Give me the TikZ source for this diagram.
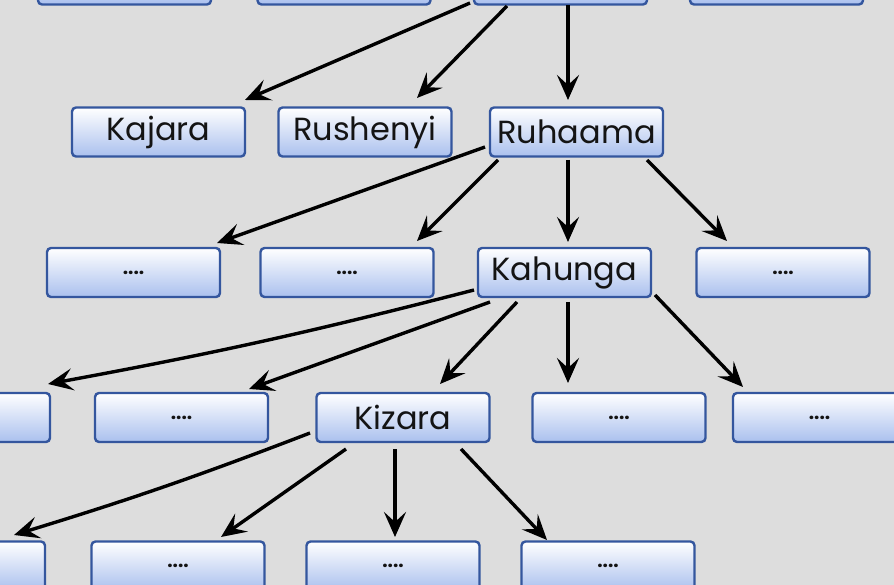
\documentclass[tikz,border=0pt]{standalone}
\usepackage{fontspec}
\setmainfont{Poppins}
\usetikzlibrary{arrows.meta}
\definecolor{bg}{RGB}{221,221,221}
\definecolor{boxline}{RGB}{52,86,158}
\definecolor{boxlow}{RGB}{170,192,238}
\definecolor{ink}{RGB}{20,20,20}
\tikzset{
  box/.style={draw=boxline, line width=2.4pt, rounded corners=4pt,
    top color=white, middle color=white, bottom color=boxlow,
    minimum width=173pt, minimum height=49pt, inner sep=0pt,
    text=ink, font=\fontsize{32}{33}\selectfont},
  dotbox/.style={box, font=\bfseries\fontsize{19}{20}\selectfont, text depth=-9pt},
  conn/.style={draw=black, line width=3.4pt,
    -{Stealth[length=25pt, width=22pt, inset=10pt]}},
}
\begin{document}
\begin{tikzpicture}[x=1pt,y=-1pt]
\clip (0,0) rectangle (894,585);
\fill[bg] (0,0) rectangle (894,585);
\useasboundingbox (0,0) rectangle (894,585);
% top row (cut off)
\node[box] (T1) at (124.5,-20) {};
\node[box] (T2) at (344,-20) {};
\node[box] (T3) at (560.5,-20) {};
\node[box] (T4) at (776.5,-20) {};
% row 1
\node[box] (kaj) at (158.5,132) {Kajara};
\node[box] (rus) at (365,132) {Rushenyi};
\node[box] (ruh) at (576.5,132) {Ruhaama};
% row 2
\node[dotbox] (A1) at (133.5,272.5) {....};
\node[dotbox] (A2) at (347,272.5) {....};
\node[box] (kah) at (564.5,272.5) {Kahunga};
\node[dotbox] (A4) at (783,272.5) {....};
% row 3
\node[box] (B0) at (-36.5,417.5) {};
\node[dotbox] (B1) at (181.5,417.5) {....};
\node[box] (kiz) at (403,417.5) {Kizara};
\node[dotbox] (B3) at (619,417.5) {....};
\node[dotbox] (B4) at (819.5,417.5) {....};
% row 4
\node[box] (C0) at (-41.5,566) {};
\node[dotbox] (C1) at (178,566) {....};
\node[dotbox] (C2) at (393,566) {....};
\node[dotbox] (C3) at (608,566) {....};
% connectors
\path[conn] ([shift={(-90.5,23)}]T3.center) -- ([shift={(86.5,-32)}]kaj.center);
\path[conn] ([shift={(-53.5,26)}]T3.center) -- ([shift={(52,-34)}]rus.center);
\path[conn] ([shift={(7.5,25)}]T3.center) -- ([shift={(-8.5,-32)}]ruh.center);
\path[conn] ([shift={(-91.5,15)}]ruh.center) -- ([shift={(83.5,-29.5)}]A1.center);
\path[conn] ([shift={(-78.5,28)}]ruh.center) -- ([shift={(70,-31.5)}]A2.center);
\path[conn] ([shift={(-8.5,28)}]ruh.center) -- ([shift={(3.5,-30.5)}]kah.center);
\path[conn] ([shift={(70.5,28)}]ruh.center) -- ([shift={(-56,-31.5)}]A4.center);
\path[conn] ([shift={(-90.5,17.5)}]kah.center) to[bend left=2] ([shift={(84.5,-33.5)}]B0.center);
\path[conn] ([shift={(-74.5,29.5)}]kah.center) -- ([shift={(67.5,-28.5)}]B1.center);
\path[conn] ([shift={(-47.5,29.5)}]kah.center) -- ([shift={(37,-33.5)}]kiz.center);
\path[conn] ([shift={(3.5,29.5)}]kah.center) -- ([shift={(-51,-34.5)}]B3.center);
\path[conn] ([shift={(90.5,22.5)}]kah.center) -- ([shift={(-76.5,-30.5)}]B4.center);
\path[conn] ([shift={(-93,15.5)}]kiz.center) to[bend left=2] ([shift={(55.5,-31)}]C0.center);
\path[conn] ([shift={(-57,31.5)}]kiz.center) -- ([shift={(43,-29)}]C1.center);
\path[conn] ([shift={(-8,31.5)}]kiz.center) -- ([shift={(2,-29)}]C2.center);
\path[conn] ([shift={(58,31.5)}]kiz.center) -- ([shift={(-61,-26)}]C3.center);
\end{tikzpicture}
\end{document}
